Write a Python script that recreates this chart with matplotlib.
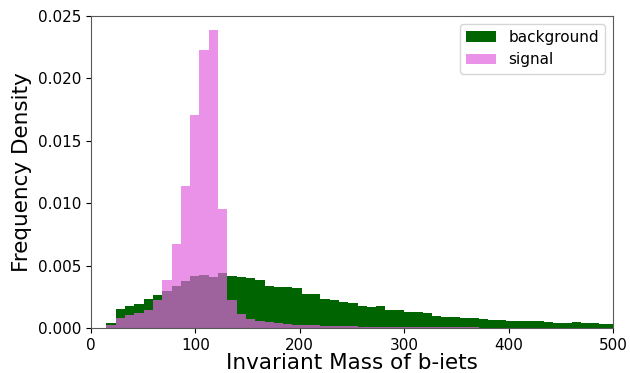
import numpy as np
import matplotlib
matplotlib.use("Agg")
import matplotlib.pyplot as plt

# histogram bin layout (density per GeV), 55 bins starting at ~14.8
bin_start = 14.8
bin_width = 8.91

background = [0.00043, 0.00150, 0.00177, 0.00195, 0.00233, 0.00262, 0.00297,
              0.00337, 0.00380, 0.00420, 0.00428, 0.00412, 0.00441, 0.00417,
              0.00409, 0.00399, 0.00385, 0.00340, 0.00330, 0.00325, 0.00318,
              0.00273, 0.00273, 0.00230, 0.00222, 0.00209, 0.00200, 0.00175,
              0.00168, 0.00175, 0.00145, 0.00142, 0.00128, 0.00126, 0.00124,
              0.00094, 0.00086, 0.00087, 0.00081, 0.00077, 0.00074, 0.00066,
              0.00063, 0.00060, 0.00056, 0.00055, 0.00053, 0.00045, 0.00043,
              0.00042, 0.00047, 0.00038, 0.00037, 0.00032, 0.00036]

signal = [0.00024, 0.00080, 0.00102, 0.00118, 0.00144, 0.00225, 0.00385,
          0.00672, 0.01140, 0.01710, 0.02231, 0.02386, 0.00955, 0.00225,
          0.00110, 0.00070, 0.00056, 0.00045, 0.00037, 0.00032, 0.00027,
          0.00024, 0.00021, 0.00019, 0.00017, 0.00015, 0.00013, 0.00012,
          0.00011, 0.00010, 0.00009, 0.00008, 0.00008, 0.00007, 0.00007,
          0.00006, 0.00006, 0.00005, 0.00005, 0.00005, 0.00004, 0.00004,
          0.00004, 0.00004, 0.00003, 0.00003, 0.00003, 0.00003, 0.00003,
          0.00002, 0.00002, 0.00002, 0.00002, 0.00002, 0.00002]

edges = bin_start + bin_width * np.arange(len(background) + 1)
centers = 0.5 * (edges[:-1] + edges[1:])

fig = plt.figure(figsize=(6.3, 3.73), dpi=100)
ax = fig.add_axes([0.1444, 0.1206, 0.8286, 0.8364])

ax.hist(centers, bins=edges, weights=background, color="darkgreen",
        label="background")
ax.hist(centers, bins=edges, weights=signal, color="#e262df", alpha=0.7,
        label="signal")

ax.set_xlim(0, 500)
ax.set_ylim(0, 0.025)
ax.set_yticks([0, 0.005, 0.01, 0.015, 0.02, 0.025])
ax.tick_params(labelsize=11)
for s in ax.spines.values():
    s.set_color("0.35")
ax.set_xlabel("Invariant Mass of b-iets", fontsize=15.5, labelpad=0.5)
ax.set_ylabel("Frequency Density", fontsize=15.5)
ax.legend(fontsize=11, loc="upper right")

fig.savefig("out.png", dpi=100)
